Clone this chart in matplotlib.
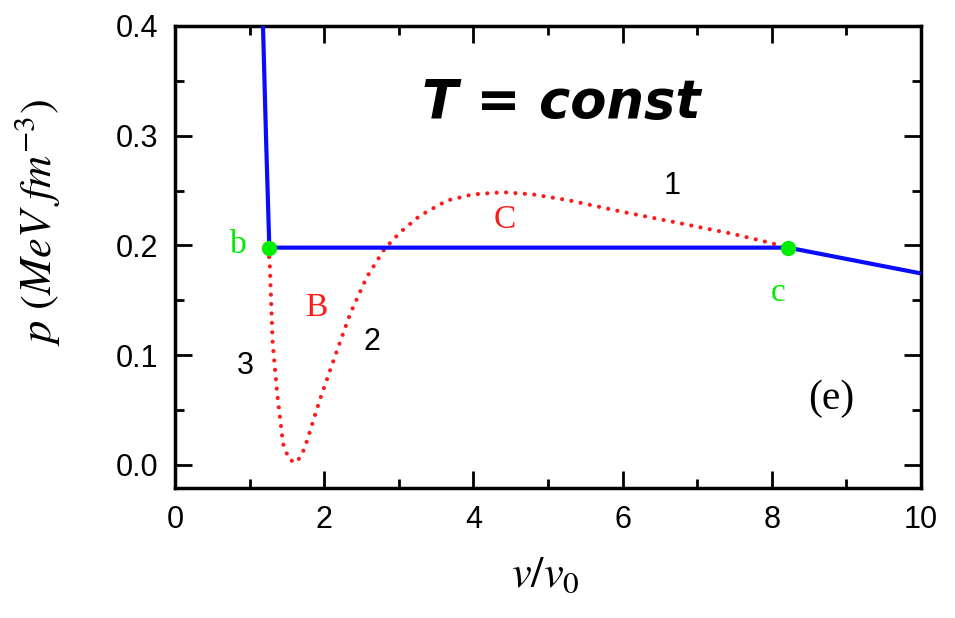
import matplotlib
matplotlib.use("Agg")
import matplotlib.pyplot as plt
from matplotlib.ticker import MultipleLocator

# Equilibrium isotherm (Maxwell construction), solid blue
iso_v = [1.18, 1.22, 1.265, 8.22, 10.0]
iso_p = [0.400, 0.300, 0.198, 0.198, 0.1745]

# Van der Waals-like loop, dotted red
loop_v = [1.25, 1.27, 1.31, 1.37, 1.45, 1.53, 1.62, 1.70, 1.77, 1.94, 2.14,
          2.35, 2.57, 2.81, 3.02, 3.28, 3.65, 3.99, 4.40, 4.80, 5.29, 5.97,
          6.64, 7.04, 7.48, 7.94, 8.22]
loop_p = [0.198, 0.184, 0.111, 0.065, 0.019, 0.005, 0.002, 0.009, 0.022,
          0.059, 0.098, 0.138, 0.171, 0.197, 0.212, 0.227, 0.241, 0.2465,
          0.2485, 0.2465, 0.241, 0.231, 0.222, 0.2165, 0.2105, 0.203, 0.198]

# Coexistence end points b and c
pts_v = [1.265, 8.22]
pts_p = [0.198, 0.198]

fig = plt.figure(figsize=(9.55, 6.18), dpi=100)
ax = fig.add_axes([0.1832, 0.2104, 0.9644 - 0.1832, 0.958 - 0.2104])

ax.plot(loop_v, loop_p, color="#ff1a1a", lw=3.0, linestyle=(0, (0.01, 2.25)),
        dash_capstyle="round", zorder=2)
ax.plot(iso_v, iso_p, color="#0a0aff", lw=3.0, solid_joinstyle="round", zorder=3)
ax.plot(pts_v, pts_p, "o", color="#00ee00", ms=10, zorder=4)

ax.set_xlim(0, 10)
ax.set_ylim(-0.021, 0.4)
ax.xaxis.set_major_locator(MultipleLocator(2))
ax.xaxis.set_minor_locator(MultipleLocator(1))
ax.yaxis.set_minor_locator(MultipleLocator(0.05))
ax.set_yticks([0.0, 0.1, 0.2, 0.3, 0.4])
ax.set_yticklabels(["0.0", "0.1", "0.2", "0.3", "0.4"])

tick_font = "Liberation Sans"
ax.tick_params(which="both", direction="in", top=True, right=True,
               width=2.0, labelsize=22, pad=12)
ax.tick_params(which="major", length=12)
ax.tick_params(which="minor", length=6.5)
for lab in ax.get_xticklabels() + ax.get_yticklabels():
    lab.set_fontfamily(tick_font)
for sp in ax.spines.values():
    sp.set_linewidth(2.5)

serif = "Liberation Serif"
ax.set_xlabel(r"$v/v_0$", fontsize=32, math_fontfamily="stix")
ax.xaxis.set_label_coords(0.497, -0.14)
ax.set_ylabel(r"$p\ (MeV\ fm^{-3})$", fontsize=32, math_fontfamily="stix")
ax.yaxis.set_label_coords(-0.151, 0.575)

# Annotations
ax.text(5.18, 0.330, "T = const", fontsize=38, fontweight="bold",
        fontstyle="italic", family="DejaVu Sans", ha="center", va="center")
ax.text(6.66, 0.254, "1", fontsize=22, family=tick_font, ha="center", va="center")
ax.text(2.64, 0.112, "2", fontsize=22, family=tick_font, ha="center", va="center")
ax.text(0.95, 0.090, "3", fontsize=22, family=tick_font, ha="center", va="center")
ax.text(1.89, 0.143, "B", fontsize=24, family=serif, color="#ff1a1a",
        ha="center", va="center")
ax.text(4.42, 0.223, "C", fontsize=24, family=serif, color="#ff1a1a",
        ha="center", va="center")
ax.text(0.85, 0.201, "b", fontsize=24, family=serif, color="#00ee00",
        ha="center", va="center")
ax.text(8.08, 0.157, "c", fontsize=24, family=serif, color="#00ee00",
        ha="center", va="center")
ax.text(8.80, 0.060, "(e)", fontsize=30, family=serif, ha="center", va="center")

fig.savefig("out.png", dpi=100)
